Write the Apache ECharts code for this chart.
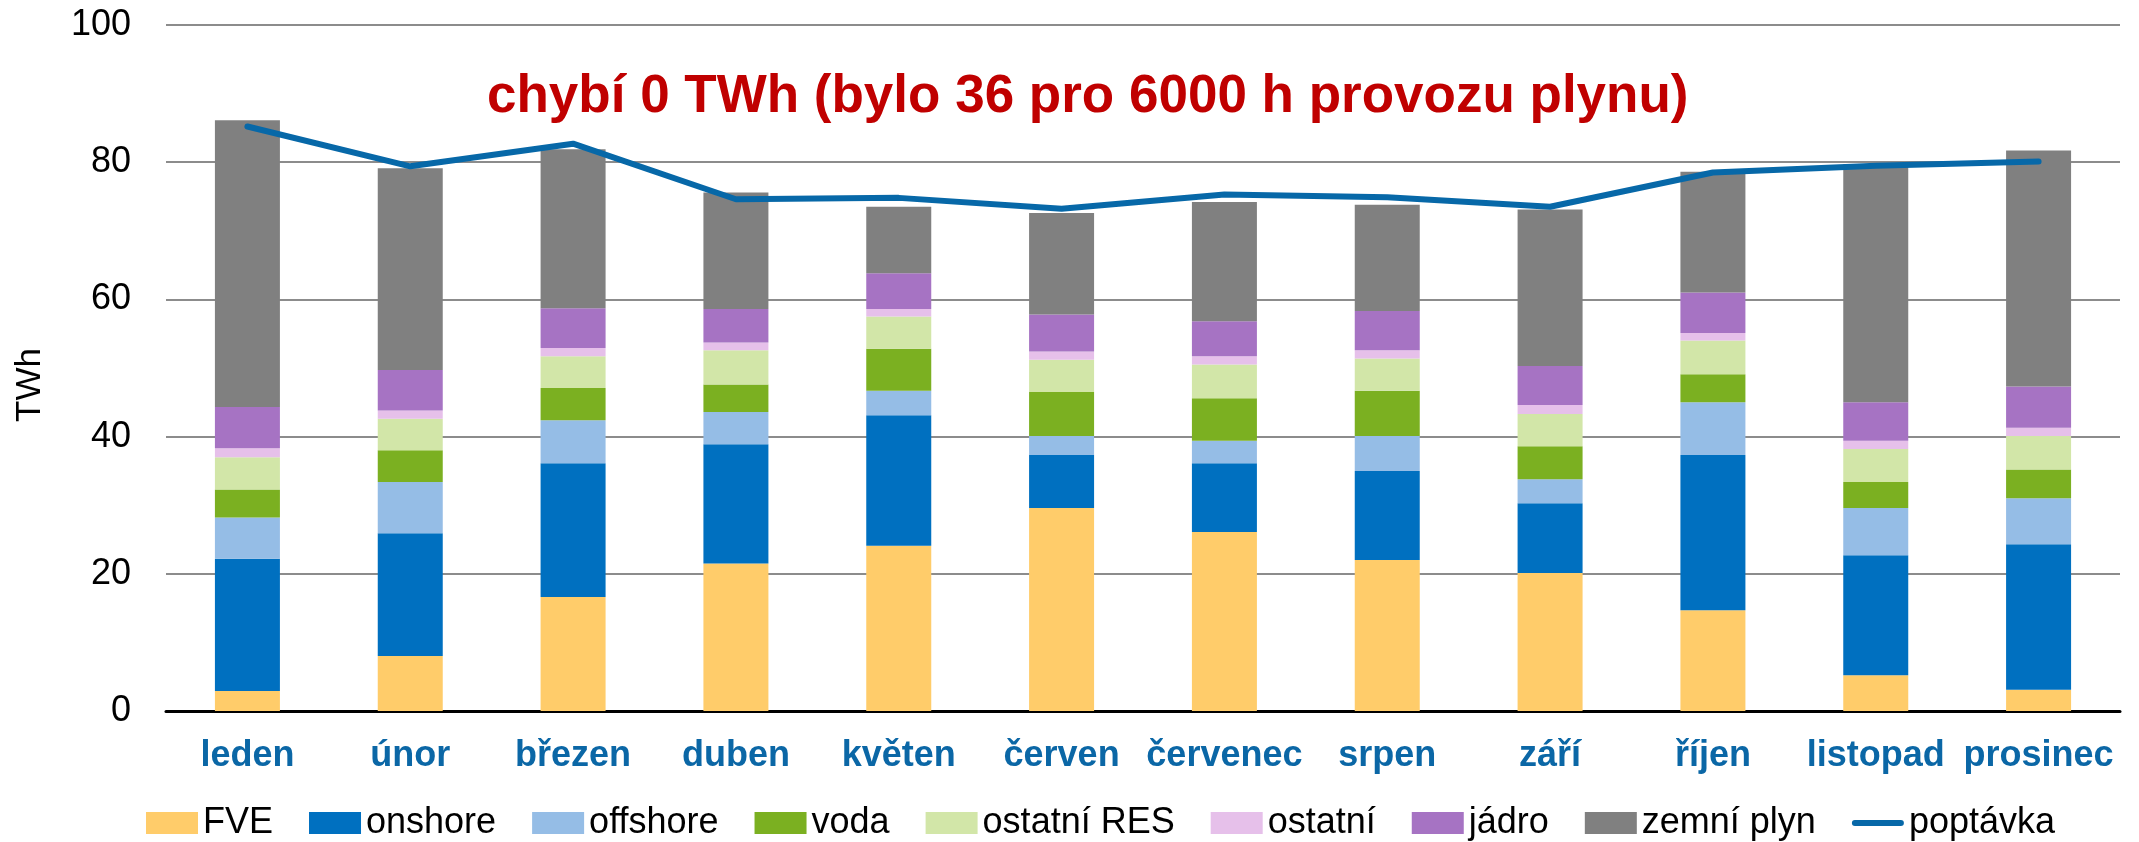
<!DOCTYPE html>
<html>
<head>
<meta charset="utf-8">
<script src="https://cdn.jsdelivr.net/npm/echarts@6/dist/echarts.min.js"></script>
<style>
  html, body { margin: 0; padding: 0; background: #fff; }
  #chart { width: 2139px; height: 842px; }
</style>
</head>
<body>
<div id="chart"></div>
<script>
// měsíce a hodnoty v TWh
const months = ['leden', 'únor', 'březen', 'duben', 'květen', 'červen', 'červenec', 'srpen', 'září', 'říjen', 'listopad', 'prosinec'];
const fve = [2.9, 8.0, 16.6, 21.5, 24.1, 29.6, 26.1, 22.0, 20.1, 14.7, 5.2, 3.1];
const onshore = [19.3, 17.9, 19.5, 17.4, 19.0, 7.7, 10.0, 13.0, 10.2, 22.6, 17.5, 21.2];
const offshore = [6.0, 7.5, 6.3, 4.7, 3.6, 2.8, 3.3, 5.1, 3.5, 7.7, 6.9, 6.7];
const voda = [4.1, 4.6, 4.7, 4.0, 6.1, 6.4, 6.2, 6.6, 4.8, 4.1, 3.8, 4.2];
const ostatniRes = [4.7, 4.6, 4.6, 5.0, 4.7, 4.7, 4.9, 4.7, 4.7, 4.9, 4.8, 4.9];
const ostatni = [1.3, 1.2, 1.2, 1.1, 1.1, 1.2, 1.2, 1.2, 1.3, 1.1, 1.2, 1.2];
const jadro = [6.0, 5.9, 5.8, 4.9, 5.2, 5.4, 5.1, 5.7, 5.7, 5.9, 5.6, 6.0];
const plyn = [41.8, 29.4, 23.2, 17.0, 9.7, 14.8, 17.4, 15.5, 22.8, 17.6, 34.7, 34.4];
const poptavka = [85.2, 79.4, 82.7, 74.6, 74.8, 73.2, 75.3, 74.9, 73.5, 78.5, 79.5, 80.1];

const font = "'Liberation Sans', Arial, sans-serif";

function bar(name, data, color) {
  return {
    name: name,
    type: 'bar',
    stack: 'mix',
    data: data,
    barWidth: 65,
    itemStyle: { color: color },
    emphasis: { disabled: true }
  };
}

const chart = echarts.init(document.getElementById('chart'));

chart.setOption({
  animation: false,
  textStyle: { fontFamily: font },
  title: {
    text: 'chybí 0 TWh (bylo 36 pro 6000 h provozu plynu)',
    left: 487,
    top: 71,
    padding: 0,
    textStyle: { color: '#C00000', fontSize: 53, fontWeight: 'bold', fontFamily: font }
  },
  graphic: [{
    type: 'text',
    x: 30,
    y: 385,
    rotation: Math.PI / 2,
    style: { text: 'TWh', font: '35px ' + font, fill: '#000', align: 'center', verticalAlign: 'middle' }
  }],
  grid: { left: 166, right: 19, top: 25, bottom: 131 },
  legend: {
    left: 146,
    top: 805,
    padding: 0,
    itemWidth: 52,
    itemHeight: 22,
    itemGap: 36,
    textStyle: { fontSize: 36, color: '#000', padding: [0, 0, 0, 0] },
    data: [
      { name: 'FVE', icon: 'rect' },
      { name: 'onshore', icon: 'rect' },
      { name: 'offshore', icon: 'rect' },
      { name: 'voda', icon: 'rect' },
      { name: 'ostatní RES', icon: 'rect' },
      { name: 'ostatní', icon: 'rect' },
      { name: 'jádro', icon: 'rect' },
      { name: 'zemní plyn', icon: 'rect' },
      { name: 'poptávka', icon: 'path://M3,0 L49,0 A3,3 0 0 1 49,6 L3,6 A3,3 0 0 1 3,0 Z' }
    ]
  },
  xAxis: {
    type: 'category',
    data: months,
    axisTick: { show: false },
    axisLine: { lineStyle: { color: '#000', width: 3 } },
    axisLabel: { color: '#0B67A6', fontSize: 36, fontWeight: 'bold', margin: 27, interval: 0 }
  },
  yAxis: {
    type: 'value',
    min: 0,
    max: 100,
    interval: 20,
    axisLine: { show: false },
    axisTick: { show: false },
    axisLabel: { color: '#000', fontSize: 36, margin: 35 },
    splitLine: { lineStyle: { color: '#8C8C8C', width: 2 } }
  },
  series: [
    bar('FVE', fve, '#FFCC6A'),
    bar('onshore', onshore, '#0070C0'),
    bar('offshore', offshore, '#95BDE6'),
    bar('voda', voda, '#7BB021'),
    bar('ostatní RES', ostatniRes, '#D2E6A8'),
    bar('ostatní', ostatni, '#E6C0EA'),
    bar('jádro', jadro, '#A673C3'),
    bar('zemní plyn', plyn, '#808080'),
    {
      name: 'poptávka',
      type: 'line',
      data: poptavka,
      symbol: 'none',
      itemStyle: { color: '#0768A8' },
      lineStyle: { color: '#0768A8', width: 6, cap: 'round', join: 'round' },
      emphasis: { disabled: true },
      z: 10
    }
  ]
});
</script>
</body>
</html>
